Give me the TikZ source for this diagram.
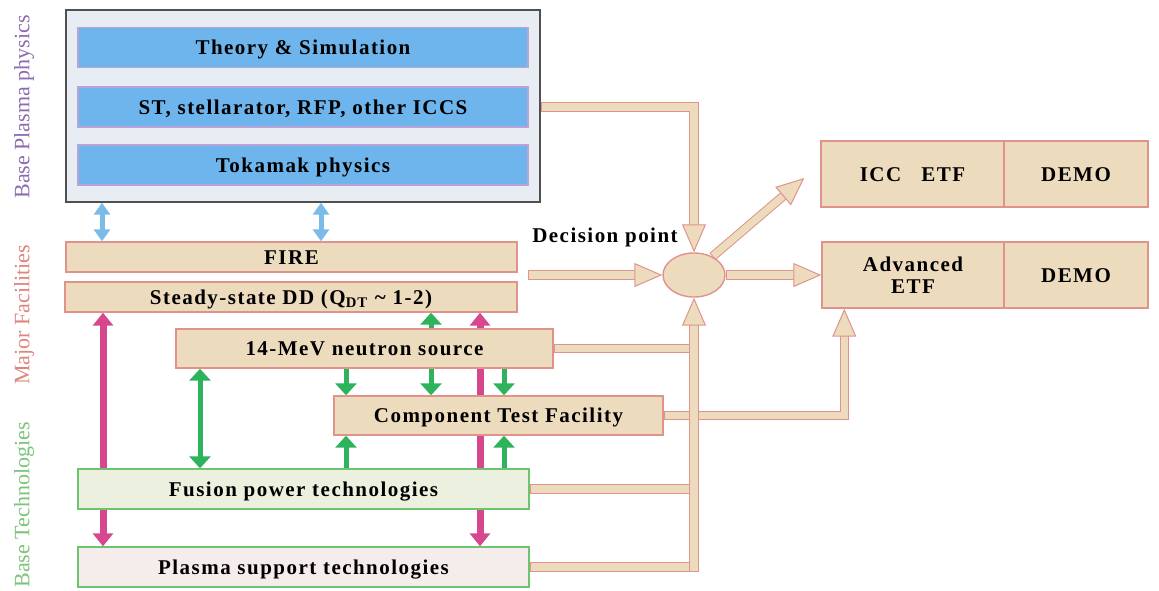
\documentclass[tikz,border=0pt]{standalone}
\usepackage{fontspec}
\setmainfont{Liberation Serif}
\newfontfamily\boxfont[LetterSpace=7]{Liberation Serif}
\usepackage{tikz}
\usetikzlibrary{arrows.meta,shapes.geometric,calc}
\pgfdeclarelayer{background}
\pgfsetlayers{background,main}
\definecolor{tanfill}{HTML}{EDDBBE}
\definecolor{tanedge}{HTML}{E0938C}
\definecolor{skyfill}{HTML}{6DB5EC}
\definecolor{skyedge}{HTML}{B8A4D8}
\definecolor{greyfill}{HTML}{E8ECF3}
\definecolor{greyedge}{HTML}{505050}
\definecolor{leaffill}{HTML}{EBF1DE}
\definecolor{leafedge}{HTML}{6CC46F}
\definecolor{rosefill}{HTML}{F5EDEC}
\definecolor{pinkarr}{HTML}{D6478E}
\definecolor{greenarr}{HTML}{2DB35B}
\definecolor{bluearr}{HTML}{7BBBEA}
\definecolor{purplelbl}{HTML}{8C6BB1}
\definecolor{salmonlbl}{HTML}{E0857A}
\definecolor{greenlbl}{HTML}{7CC47A}
\tikzstyle{box}=[rectangle,draw,line width=0.7pt,inner sep=0pt,text height=7pt,text depth=0pt,font=\boxfont\bfseries\fontsize{10.5}{12}\selectfont]
\tikzstyle{physbox}=[box,fill=skyfill,draw=skyedge,minimum width=225pt,minimum height=20pt]
\tikzstyle{facbox}=[box,fill=tanfill,draw=tanedge]
\tikzstyle{techbox}=[box,draw=leafedge,minimum width=225.5pt,minimum height=20pt]
\tikzstyle{sidelabel}=[rotate=90,inner sep=0pt,font=\fontsize{11}{12}\selectfont]
\tikzstyle{pipe}=[draw=tanfill,line width=3.6pt,line join=miter,shorten <=0.5pt,preaction={draw=tanedge,line width=4.6pt,shorten <=0pt}]
\tikzstyle{bigarrow}=[draw=tanfill,line width=3.6pt,line join=miter,shorten <=0.5pt,-{Triangle[width=12pt,length=14pt,line width=0.5pt,fill=tanfill,color=tanedge]},preaction={draw=tanedge,line width=4.6pt,arrows=-,shorten <=0pt,shorten >=13pt}]
\tikzstyle{bluearrow}=[draw=bluearr,line width=2.5pt,>={Triangle[width=8pt,length=6pt]}]
\tikzstyle{pinkarrow}=[draw=pinkarr,line width=3.5pt,>={Triangle[width=10pt,length=6.5pt]}]
\tikzstyle{greenarrow}=[draw=greenarr,line width=2.5pt,>={Triangle[width=10.5pt,length=6pt]}]

\begin{document}
\begin{tikzpicture}[x=0.5pt,y=-0.5pt]
    \useasboundingbox (0,0) rectangle (1159,590);
    % Side titles
    \node[sidelabel,text=purplelbl] (lblphys) at (24,107) {Base Plasma physics};
    \node[sidelabel,text=salmonlbl] (lblfac) at (24,315) {Major Facilities};
    \node[sidelabel,text=greenlbl] (lbltech) at (24,505) {Base Technologies};
    % Base plasma physics block
    \node[box,fill=greyfill,draw=greyedge,minimum width=237pt,minimum height=96pt] (plasma) at (303,106) {};
    \foreach \name/\y/\txt in {theory/47.5/Theory \& Simulation, stel/107/{ST, stellarator, RFP, other ICCS}, tokamak/165/Tokamak physics}
        \node[physbox] (\name) at (303,\y) {\txt};
    % Major facilities
    \node[facbox,minimum width=225.5pt,minimum height=15pt] (fire) at (291.5,257) {FIRE};
    \node[facbox,minimum width=226pt,minimum height=15pt] (steady) at (291,297) {Steady-state DD (Q\textsubscript{DT} \textasciitilde\ 1-2)};
    \node[facbox,minimum width=188.5pt,minimum height=19.5pt] (neutron) at (364.5,348.5) {14-MeV neutron source};
    \node[facbox,minimum width=164.5pt,minimum height=19.5pt] (ctf) at (498.5,415.5) {Component Test Facility};
    % Base technologies
    \node[techbox,fill=leaffill] (fusion) at (303.5,489) {Fusion power technologies};
    \node[techbox,fill=rosefill] (support) at (303.5,567) {Plasma support technologies};
    % Decision point and the two routes
    \node[ellipse,draw=tanedge,fill=tanfill,line width=0.7pt,minimum width=31pt,minimum height=22pt,inner sep=0pt] (dec) at (694,275) {};
    \node[font=\boxfont\bfseries\fontsize{10.5}{12}\selectfont] (declbl) at (605,237) {Decision point};
    \node[facbox,minimum width=91.5pt,minimum height=33pt] (icc) at (912.5,174) {ICC~~~ETF};
    \node[facbox,minimum width=72pt,minimum height=33pt] (demoA) at (1076,174) {DEMO};
    \node[facbox,minimum width=91pt,minimum height=33pt,align=center,text height=,text depth=] (adv) at (913,275) {Advanced\\[-1pt]ETF};
    \node[facbox,minimum width=72pt,minimum height=33pt] (demoB) at (1076,275) {DEMO};

    \begin{pgfonlayer}{background}
    \fill[white] (0,0) rectangle (1159,590);
    % Columns of the thin arrows
    \coordinate (bA) at (102,0);
    \coordinate (bB) at (321,0);
    \coordinate (mA) at (103,0);
    \coordinate (mB) at (480,0);
    \coordinate (gA) at (200,0);
    \coordinate (gB) at (346,0);
    \coordinate (gC) at (431,0);
    \coordinate (gD) at (504,0);
    \foreach \col in {bA,bB}
        \path[bluearrow,<->] (\col |- plasma.south) -- (\col |- fire.north);
    \foreach \col in {mA,mB}
        \path[pinkarrow,<->] (\col |- steady.south) -- (\col |- support.north);
    \foreach \col/\src/\dst in {gA/neutron/fusion, gC/steady/ctf}
        \path[greenarrow,<->] (\col |- \src.south) -- (\col |- \dst.north);
    \foreach \col/\src/\dst in {gB/neutron.south/ctf.north, gB/fusion.north/ctf.south, gD/neutron.south/ctf.north, gD/fusion.north/ctf.south}
        \path[greenarrow,->] (\col |- \src) -- (\col |- \dst);
    % Block arrows towards the decision point
    \coordinate (etfin) at ($(adv.south west)+(23,0)$);
    \path[bigarrow] (ctf.east) -| (etfin);
    \foreach \src in {neutron,fusion,support}
        \path[pipe] (\src.east) -- (dec.south |- \src.east);
    \path[bigarrow] ($(dec.south |- support.east)+(0,5)$) -- (dec.south);
    \path[bigarrow] (plasma.east |- stel.east) -| (dec.north);
    \path[bigarrow] ($(fire.east |- dec.west)+(10,0)$) -- (dec.west);
    \path[bigarrow] (dec.east) -- (adv.west);
    \path[bigarrow] (dec.45) -- ($(icc.west)+(-16,4)$);
    \end{pgfonlayer}
\end{tikzpicture}
\end{document}
